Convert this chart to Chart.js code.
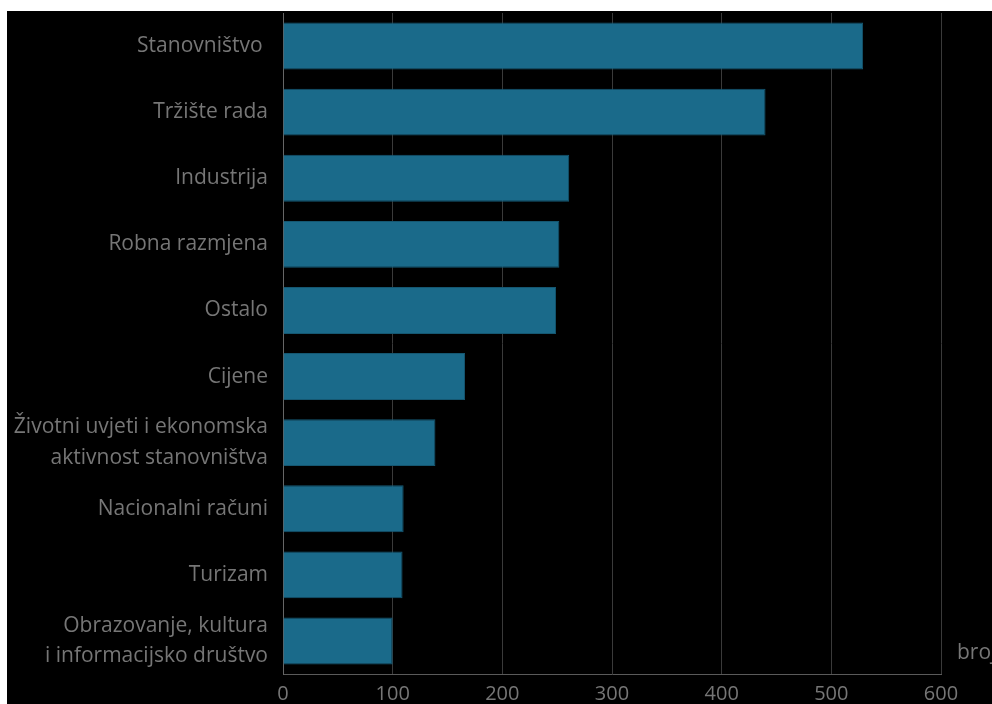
<!DOCTYPE html>
<html>
<head>
<meta charset="utf-8">
<script src="https://cdn.jsdelivr.net/npm/chart.js@4"></script>
<style>
  html, body { margin: 0; padding: 0; background: #ffffff; }
  #wrap { position: absolute; left: 7px; top: 11px; width: 985px; height: 693px; background: #000000; }
</style>
</head>
<body>
<div id="wrap"><canvas id="barChart" width="985" height="693"></canvas></div>
<script>
// categories, top to bottom
const categories = [
    "Stanovništvo ",
    "Tržište rada",
    "Industrija",
    "Robna razmjena",
    "Ostalo",
    "Cijene",
    ["Životni uvjeti i ekonomska", "aktivnost stanovništva"],
    "Nacionalni računi",
    "Turizam",
    ["Obrazovanje, kultura", "i informacijsko društvo"]
];
const counts = [529, 440, 261, 252, 249, 166, 139, 110, 109, 100];
const xTicks = [0, 100, 200, 300, 400, 500, 600];
const unitLabel = "broj";

const textGray = "#767676";
const fontFamily = "'Open Sans', 'Noto Sans', sans-serif";

// unit text to the right of the plot, near the x axis
const unitPlugin = {
    id: "unitText",
    afterDraw(chart) {
        const ctx = chart.ctx;
        const area = chart.chartArea;
        ctx.save();
        ctx.fillStyle = textGray;
        ctx.font = "21px " + fontFamily;
        ctx.textAlign = "left";
        ctx.textBaseline = "middle";
        ctx.fillText(unitLabel, area.right + 16, area.bottom - 21);
        ctx.restore();
    }
};

new Chart(document.getElementById("barChart"), {
    type: "bar",
    data: {
        labels: categories,
        datasets: [{
            data: counts,
            backgroundColor: "#1a6a8a",
            borderColor: "#155771",
            borderWidth: 1,
            categoryPercentage: 1,
            barPercentage: 0.71
        }]
    },
    options: {
        indexAxis: "y",
        responsive: false,
        animation: false,
        layout: { padding: { top: 2, right: 51, left: 0, bottom: 0 } },
        plugins: {
            legend: { display: false },
            tooltip: { enabled: false }
        },
        scales: {
            x: {
                min: 0,
                max: 600,
                afterBuildTicks(scale) {
                    scale.ticks = xTicks.map(v => ({ value: v }));
                },
                afterFit(scale) {
                    scale.height = 30;
                    scale.paddingLeft = 0;
                    scale.paddingRight = 0;
                },
                grid: { color: "#3a3a3a", drawTicks: false },
                border: { color: "#5a5a5a", width: 1 },
                ticks: {
                    color: textGray,
                    padding: 8,
                    maxRotation: 0,
                    font: { family: fontFamily, size: 20 }
                }
            },
            y: {
                afterFit(scale) {
                    scale.width = 276;
                    scale.paddingTop = 0;
                    scale.paddingBottom = 0;
                },
                grid: { display: false, drawTicks: false },
                border: { color: "#666666", width: 1 },
                ticks: {
                    color: textGray,
                    padding: 15,
                    font: { family: fontFamily, size: 21, lineHeight: 1.45 }
                }
            }
        }
    },
    plugins: [unitPlugin]
});
</script>
</body>
</html>
